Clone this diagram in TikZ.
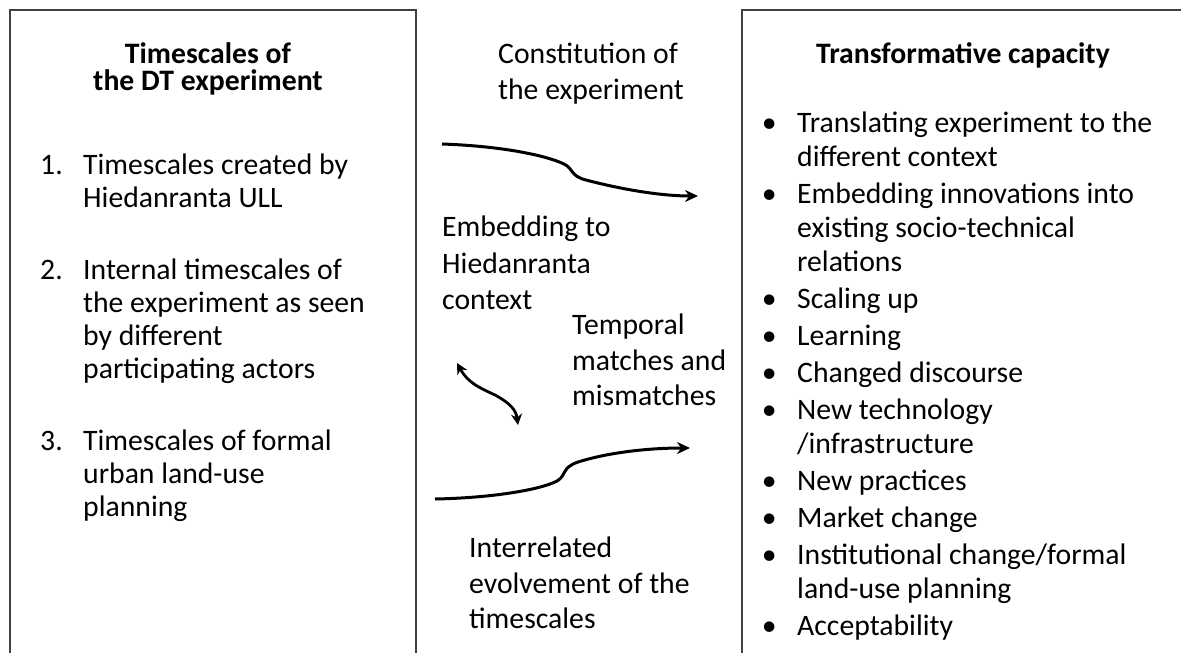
\documentclass[tikz,border=0pt]{standalone}
\usepackage{fontspec}
\setmainfont{Carlito}
\usetikzlibrary{arrows.meta}
\newcommand{\bodyfont}[1][34]{\fontsize{29.7}{#1}\selectfont}
\newcommand{\itemnum}[1]{\llap{\makebox[43pt][l]{#1}}}% number left of the text
\newcommand{\itembul}{\llap{\makebox[56pt]{\textbullet}}}% bullet left of the text

\begin{document}
\begin{tikzpicture}[x=1pt,y=-1pt,
    frame/.style={draw=black!75, line width=1.3pt},
    timeline/.style={line width=3pt, -{Stealth[length=13pt,width=12pt]}},
    swap/.style={line width=2.8pt, {Stealth[length=11pt,width=11pt]}-{Stealth[length=11pt,width=11pt]}},
    head/.style={anchor=north, inner sep=0pt, align=center, font={\bfseries\bodyfont[27]}},
    txt/.style={anchor=north west, inner sep=0pt, align=left, font={\bodyfont}}]
  \useasboundingbox[fill=white] (0,0) rectangle (1181,653);

  % the two boxes, open at the bottom
  \draw[frame] (10,653) -- (10,10) -- (416,10) -- (416,653);
  \draw[frame] (742,653) -- (742,10) -- (1190,10);

  % left box
  \node[head] (lefthead) at (208,42) {Timescales of\\the DT experiment};
  \node[txt, font={\bodyfont[33]}] (leftlist) at (83,154) {%
    \itemnum{1.}Timescales created by\\Hiedanranta ULL\\[39pt]
    \itemnum{2.}Internal timescales of\\the experiment as seen\\by different\\participating actors\\[39pt]
    \itemnum{3.}Timescales of formal\\urban land-use\\planning};

  % right box
  \node[head] (righthead) at (963,42) {Transformative capacity};
  \node[txt] (rightlist) at (797,112) {%
    \itembul Translating experiment to the\\different context\\[3pt]
    \itembul Embedding innovations into\\existing socio-technical\\relations\\[3pt]
    \itembul Scaling up\\[3pt]
    \itembul Learning\\[3pt]
    \itembul Changed discourse\\[3pt]
    \itembul New technology\\/infrastructure\\[3pt]
    \itembul New practices\\[3pt]
    \itembul Market change\\[3pt]
    \itembul Institutional change/formal\\land-use planning\\[3pt]
    \itembul Acceptability};

  % middle labels
  \node[txt, font={\bodyfont[35.5]}] (constitution) at (498,43) {Constitution of\\the experiment};
  \node[txt, font={\bodyfont[36.5]}] (embedding) at (442,216) {Embedding to\\Hiedanranta\\context};
  \node[txt, font={\bodyfont[35.5]}] (temporal) at (572,314) {Temporal\\matches and\\mismatches};
  \node[txt, font={\bodyfont[35.5]}] (interrelated) at (469,537) {Interrelated\\evolvement of the\\timescales};

  % the two time lines and the match arrow
  \coordinate (upstart) at (442,144);
  \coordinate (upend) at (698,196);
  \coordinate (lowstart) at (435,499);
  \coordinate (lowend) at (690,448);
  \coordinate (swaptop) at (457,363);
  \coordinate (swapbot) at (518,425);
  \draw[timeline] (upstart) .. controls (500,146) and (545,155) .. (564,164)
    .. controls (574,169) and (570,176) .. (586,180)
    .. controls (620,189) and (660,196) .. (upend);
  \draw[timeline] (lowstart) .. controls (490,498) and (540,490) .. (557,481)
    .. controls (567,475) and (561,468) .. (578,462)
    .. controls (610,452) and (650,448) .. (lowend);
  \draw[swap] (swaptop) .. controls (468,383) and (480,388) .. (495,395)
    .. controls (510,403) and (516,410) .. (swapbot);
\end{tikzpicture}
\end{document}
